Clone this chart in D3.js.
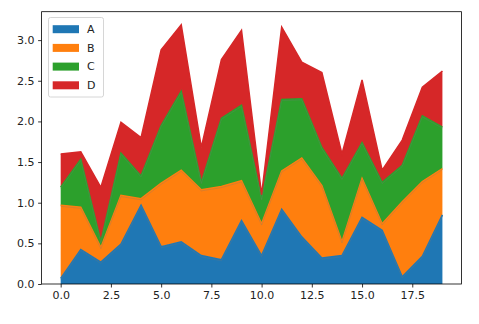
<!DOCTYPE html>
<html><head><meta charset="utf-8">
<script src="https://cdn.jsdelivr.net/npm/d3@7"></script>
<style>body{margin:0;background:#fff}svg{display:block}text{font-family:"DejaVu Sans",sans-serif}</style>
</head><body><svg id="c" width="479" height="324"></svg>
<script>
const xs = d3.range(0, 20);
const seriesNames = ["A", "B", "C", "D"];
const A = [0.07,0.425,0.27,0.49,0.97,0.46,0.52,0.35,0.30,0.78,0.35,0.92,0.58,0.32,0.35,0.82,0.66,0.09,0.34,0.85];
const B = [0.90,0.52,0.18,0.60,0.08,0.78,0.88,0.81,0.90,0.49,0.39,0.47,0.97,0.89,0.17,0.48,0.08,0.92,0.92,0.57];
const C = [0.22,0.59,0.07,0.52,0.28,0.71,0.97,0.09,0.84,0.93,0.31,0.88,0.73,0.47,0.78,0.44,0.51,0.45,0.81,0.51];
const D = [0.41,0.09,0.67,0.38,0.47,0.93,0.82,0.43,0.72,0.92,0.05,0.89,0.45,0.92,0.30,0.77,0.15,0.31,0.35,0.69];
const colors = ["#1f77b4", "#ff7f0e", "#2ca02c", "#d62728"];
const xTicks = [0, 2.5, 5, 7.5, 10, 12.5, 15, 17.5];
const yTicks = [0, 0.5, 1, 1.5, 2, 2.5, 3];

const rows = xs.map((x, i) => ({x, A: A[i], B: B[i], C: C[i], D: D[i]}));
const stack = d3.stack().keys(seriesNames)(rows);

const L = 41.6, R = 461.5, T = 11.7, Bm = 284;
const maxTot = d3.max(stack[3], d => d[1]);
const x = d3.scaleLinear().domain([-0.95, 19.95]).range([L, R]);
const y = d3.scaleLinear().domain([0, maxTot * 1.05]).range([Bm, T]);

const svg = d3.select("#c");
const g = svg.append("g");

const area = d3.area().x(d => x(d.data.x)).y0(d => y(d[0])).y1(d => y(d[1]));
const line = d3.line().x(d => x(d.data.x)).y(d => y(d[1]));

g.selectAll("path.area").data(stack).enter().append("path")
  .attr("class", "area").attr("d", area).attr("fill", (d, i) => colors[i]);
g.selectAll("path.ln").data(stack).enter().append("path")
  .attr("class", "ln").attr("d", line).attr("fill", "none")
  .attr("stroke", (d, i) => colors[i]).attr("stroke-width", 1.5);
g.selectAll("path.edge").data(stack.slice(0, 3)).enter().append("path")
  .attr("class", "edge").attr("d", line).attr("fill", "none")
  .attr("transform", "translate(0,1.2)")
  .attr("stroke", "#777").attr("stroke-opacity", 0.45).attr("stroke-width", 0.6);

const xAxis = d3.axisBottom(x).tickValues(xTicks).tickSize(3.5).tickPadding(3.5).tickFormat(d3.format(".1f"));
const yAxis = d3.axisLeft(y).tickValues(yTicks).tickSize(3.5).tickPadding(3.5).tickFormat(d3.format(".1f"));
const gx = svg.append("g").attr("transform", `translate(0,${Bm})`).call(xAxis);
const gy = svg.append("g").attr("transform", `translate(${L},0)`).call(yAxis);
[gx, gy].forEach(a => {
  a.select(".domain").remove();
  a.selectAll("line").attr("stroke", "#000").attr("stroke-width", 0.8);
  a.selectAll("text").attr("font-size", 11).attr("fill", "#222").attr("font-family", "DejaVu Sans");
});

svg.append("rect").attr("x", L).attr("y", T).attr("width", R - L).attr("height", Bm - T)
  .attr("fill", "none").attr("stroke", "#000").attr("stroke-width", 0.8);

// legend
const lg = svg.append("g");
lg.append("rect").attr("x", 48.5).attr("y", 17.5).attr("width", 55).attr("height", 79.5)
  .attr("rx", 2).attr("fill", "#fff").attr("fill-opacity", 0.8).attr("stroke", "#ccc").attr("stroke-width", 0.8);
seriesNames.forEach((n, i) => {
  const cy = 29.2 + i * 18.7;
  lg.append("rect").attr("x", 52.7).attr("y", cy - 4).attr("width", 26.3).attr("height", 8).attr("fill", colors[i]);
  lg.append("text").attr("x", 87).attr("y", cy).attr("dy", "0.35em").attr("font-size", 11).attr("fill", "#222").text(n);
});
</script></body></html>
